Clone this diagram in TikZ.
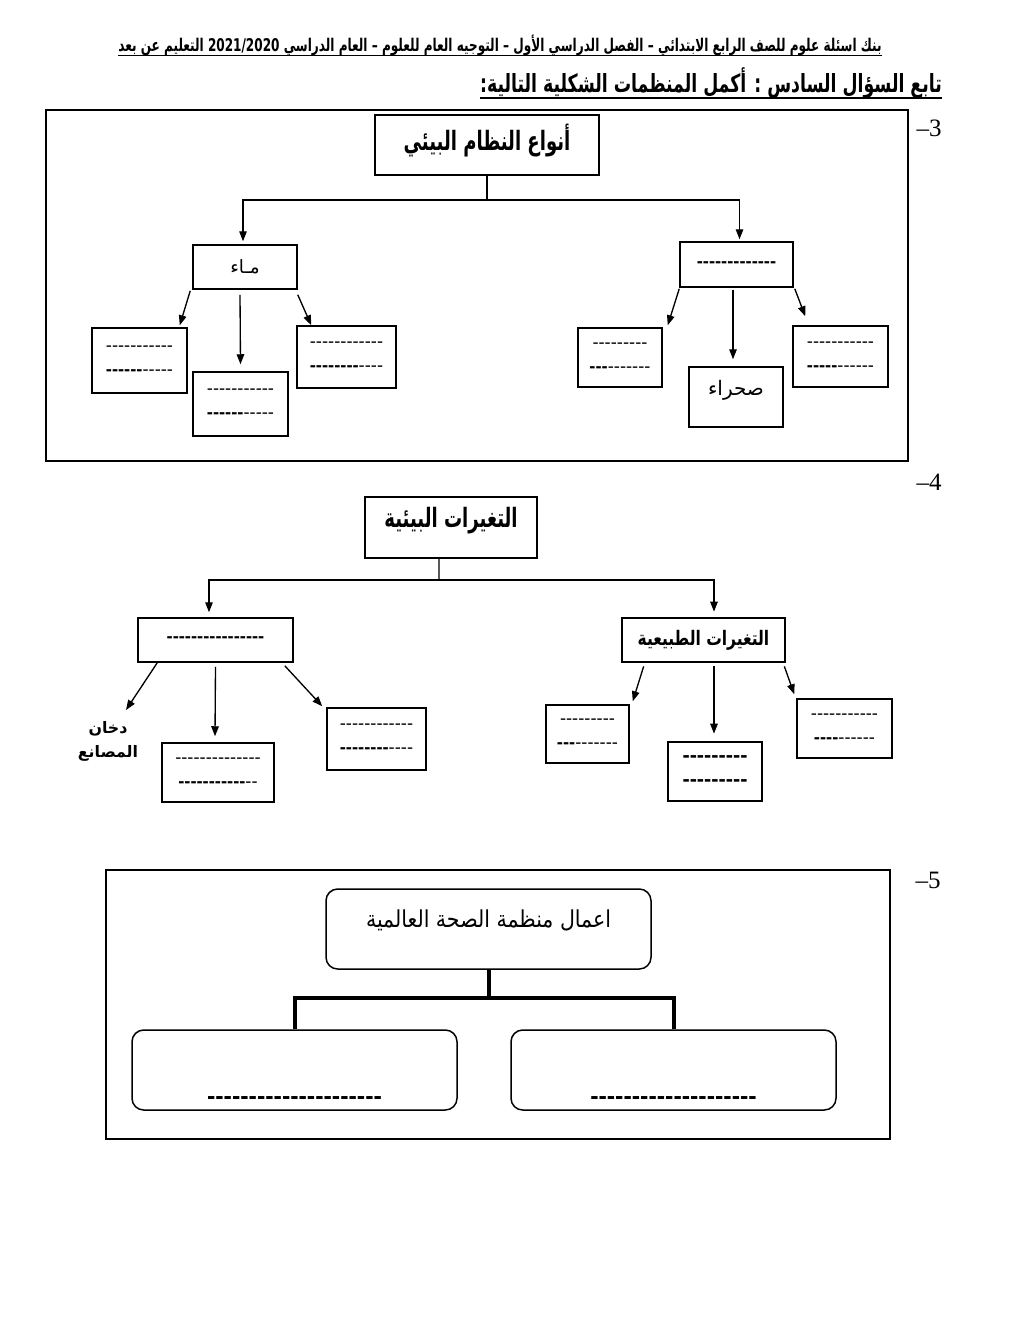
\documentclass[tikz,border=0pt]{standalone}
\usepackage{fontspec}
\usepackage{graphicx}
\usetikzlibrary{arrows.meta}
\setmainfont{Liberation Serif}
\newfontfamily\ar[Script=Arabic]{DejaVu Sans}
\newfontfamily\sans{Liberation Sans}
\TeXXeTstate=1
\newcommand\RL[1]{\beginR #1\endR}
\newcommand\dd[1]{\foreach\k in {1,...,#1}{-\kern0pt}}
\newcommand\bxx[7]{\node[#1, minimum width={(#5-#3)*0.6pt}, minimum height={(#6-#4)*0.6pt}] (#2) at ({(#3+#5)/2},{(#4+#6)/2}) {#7};}
\begin{document}
\begin{tikzpicture}[x=0.6pt,y=-0.6pt,
  box/.style={draw, line width=0.9pt, inner sep=0pt, align=center},
  thk/.style={box, line width=1.6pt},
  rbox/.style={draw, line width=0.9pt, rounded corners=7pt, inner sep=0pt, align=center},
  frame/.style={draw, line width=0.8pt, inner sep=0pt},
  arr/.style={-{Triangle[length=6pt,width=4.5pt]}, line width=0.8pt},
  conn/.style={line width=0.8pt},
  heavy/.style={line width=2.4pt, line join=miter},
  dsh/.style={font=\sans\fontsize{11}{14.4}\selectfont},
  num/.style={font=\fontsize{15}{17}\selectfont, inner sep=0pt},
  txt/.style={inner sep=0pt, anchor=base}]
\fill[white] (0,0) rectangle (1020,1320);
\useasboundingbox (0,0) rectangle (1020,1320);

% header and title
\node[txt] (hd) at (500,51) {\resizebox{458pt}{\height}{\ar\bfseries\fontsize{10.5}{12}\selectfont\RL{بنك اسئلة علوم للصف الرابع الابتدائي – الفصل الدراسي الأول – التوجيه العام للعلوم – العام الدراسي \beginL 2021/2020\endL{} التعليم عن بعد}}};
\draw[line width=0.6pt] ([yshift=-2.4pt]hd.base west) -- ([yshift=-2.4pt]hd.base east);
\node[txt] (ttl) at (711,92) {\resizebox{277pt}{\height}{\ar\bfseries\fontsize{15}{17}\selectfont\RL{تابع السؤال السادس : أكمل المنظمات الشكلية التالية:}}};
\draw[line width=0.8pt] ([yshift=-3.6pt]ttl.base west) -- ([yshift=-3.6pt]ttl.base east);

% ---------- section 3
\bxx{frame}{f3}{46}{110}{908}{461}{}
\node[num] (n3) at (929,128) {–\kern0pt 3};
\bxx{box, text height=11pt, text depth=4pt}{t3}{375}{115}{599}{175}{\resizebox{100pt}{\height}{\ar\bfseries\fontsize{16}{18}\selectfont\RL{أنواع النظام البيئي}}}
\bxx{box}{m3l}{193}{245}{297}{289}{\ar\fontsize{11}{13}\selectfont\RL{مـاء}}
\bxx{box, dsh}{m3r}{680}{242}{793}{287}{\textbf{\dd{13}}}
\bxx{box, dsh}{c1}{92}{328}{187}{393}{\dd{11}\\\textbf{\dd{6}}\dd{5}}
\bxx{box, dsh}{c2}{193}{372}{288}{436}{\dd{11}\\\textbf{\dd{6}}\dd{5}}
\bxx{box, dsh}{c3}{297}{326}{396}{388}{\dd{12}\\\textbf{\dd{8}}\dd{4}}
\bxx{box, dsh}{cA}{578}{328}{662}{387}{\dd{9}\\\textbf{\dd{3}}\dd{7}}
\bxx{box, text height=8pt, text depth=9.4pt}{cB}{689}{367}{783}{427}{\ar\fontsize{12}{14}\selectfont\RL{صحراء}}
\bxx{box, dsh}{cC}{793}{326}{888}{387}{\dd{11}\\\textbf{\dd{5}}\dd{6}}

\coordinate (j3) at (487,200);
\draw[conn] (t3.south) -- (j3);
\draw[arr] (j3) -| ([shift={(-2,-3)}]m3l.north);
\draw[arr] (j3) -| ([shift={(3,-2)}]m3r.north);
\draw[arr] ([shift={(-2,1)}]m3l.south west) -- ([shift={(-8,-2)}]c1.north east);
\draw[arr] ([shift={(-5,5)}]m3l.south) -- ([shift={(0,-7)}]c2.north);
\draw[arr] ([shift={(0,5)}]m3l.south east) -- ([shift={(15,0)}]c3.north west);
\draw[arr] ([shift={(0,1)}]m3r.south west) -- ([shift={(5,-2)}]cA.north east);
\draw[arr] ([shift={(-3.5,2)}]m3r.south) -- ([shift={(-3,-7)}]cB.north);
\draw[arr] ([shift={(1,1)}]m3r.south east) -- ([shift={(13,-9)}]cC.north west);

% ---------- section 4
\node[num] (n4) at (929,482) {–\kern0pt 4};
\bxx{box, text height=11pt, text depth=11pt}{t4}{365}{497}{537}{558}{\resizebox{80pt}{\height}{\ar\bfseries\fontsize{16}{18}\selectfont\RL{التغيرات البيئية}}}
\bxx{box, dsh}{m4l}{138}{618}{293}{662}{\textbf{\dd{16}}}
\bxx{thk}{m4r}{622}{618}{785}{662}{\resizebox{79pt}{\height}{\ar\bfseries\fontsize{12}{14}\selectfont\RL{التغيرات الطبيعية}}}
\node[inner sep=0pt, align=center, font=\ar\bfseries\fontsize{9.5}{14.4}\selectfont] (dk) at (108,741) {\RL{دخان}\\\RL{المصانع}};
\bxx{box, dsh}{d2}{162}{743}{274}{802}{\dd{14}\\\textbf{\dd{11}}\dd{2}}
\bxx{box, dsh}{d3}{327}{708}{426}{770}{\dd{12}\\\textbf{\dd{8}}\dd{4}}
\bxx{box, dsh}{e1}{546}{705}{629}{763}{\dd{9}\\\textbf{\dd{3}}\dd{7}}
\bxx{thk, font=\sans\bfseries\fontsize{13}{14.4}\selectfont}{e2}{668}{742}{762}{801}{\dd{9}\\\dd{9}}
\bxx{box, dsh}{e3}{797}{699}{892}{758}{\dd{11}\\\textbf{\dd{4}}\dd{6}}

\coordinate (j4) at (439,580);
\coordinate (dkt) at (126,710);
\draw[conn] ([xshift=-7.2pt]t4.south) -- (j4);
\draw[arr] (j4) -| ([shift={(-6.5,-5)}]m4l.north);
\draw[arr] (j4) -| ([shift={(10.5,-5)}]m4r.north);
\draw[arr] ([shift={(20,0)}]m4l.south west) -- (dkt);
\draw[arr] ([shift={(0,4)}]m4l.south) -- ([shift={(-3,-6)}]d2.north);
\draw[arr] ([shift={(-9,3)}]m4l.south east) -- ([shift={(-4,-1)}]d3.north west);
\draw[arr] ([shift={(23,3)}]m4r.south west) -- ([shift={(3,-3)}]e1.north east);
\draw[arr] ([shift={(10.5,3)}]m4r.south) -- ([shift={(-1,-7)}]e2.north);
\draw[arr] ([shift={(-2,3)}]m4r.south east) -- ([shift={(-2,-4)}]e3.north west);

% ---------- section 5
\bxx{frame}{f5}{106}{870}{890}{1139}{}
\node[num] (n5) at (928,880) {–\kern0pt 5};
\bxx{rbox, text height=10pt, text depth=12.4pt}{t5}{326}{889}{651}{969}{\resizebox{147pt}{\height}{\ar\fontsize{14}{16}\selectfont\RL{اعمال منظمة الصحة العالمية}}}
\bxx{rbox, text height=41pt, text depth=0pt, font=\sans\bfseries\fontsize{15}{16}\selectfont}{b1}{132}{1030}{457}{1110}{\dd{21}}
\bxx{rbox, text height=41pt, text depth=0pt, font=\sans\bfseries\fontsize{15}{16}\selectfont}{b2}{511}{1030}{836}{1110}{\dd{20}}
\coordinate (j5) at (488.5,998);
\draw[heavy] (t5.south) -- (j5);
\draw[heavy] (b1.north) |- (j5) -| (b2.north);
\end{tikzpicture}
\end{document}
